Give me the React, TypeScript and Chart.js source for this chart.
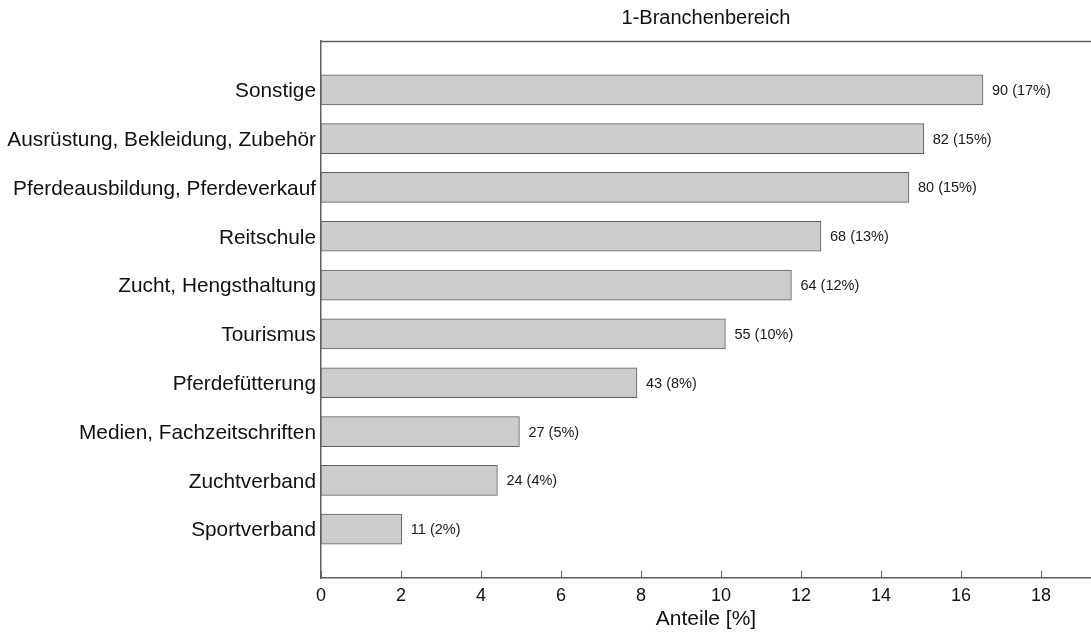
import React, { useEffect, useRef } from "react";
import { Chart, registerables } from "chart.js";

Chart.register(...registerables);

const categories = [
  "Sonstige",
  "Ausrüstung, Bekleidung, Zubehör",
  "Pferdeausbildung, Pferdeverkauf",
  "Reitschule",
  "Zucht, Hengsthaltung",
  "Tourismus",
  "Pferdefütterung",
  "Medien, Fachzeitschriften",
  "Zuchtverband",
  "Sportverband",
];
const shares = [16.55, 15.07, 14.7, 12.5, 11.76, 10.11, 7.9, 4.96, 4.41, 2.02];
const counts = [90, 82, 80, 68, 64, 55, 43, 27, 24, 11];
const pctLabels = ["17%", "15%", "15%", "13%", "12%", "10%", "8%", "5%", "4%", "2%"];
const xTickValues = [0, 2, 4, 6, 8, 10, 12, 14, 16, 18];
const xMax = 19.25;
const titleText = "1-Branchenbereich";
const xTitle = "Anteile [%]";

const FONT = "'Liberation Sans', Arial, Helvetica, sans-serif";
const AXIS_COLOR = "#5f5f5f";

export default function App() {
  const ref = useRef<HTMLCanvasElement | null>(null);

  useEffect(() => {
    if (!ref.current) return;
    const labels = ["", ...categories, ""];
    const data = [null, ...shares, null];

    const extras = {
      id: "extras",
      afterDatasetsDraw(chart: any) {
        const ctx = chart.ctx;
        const area = chart.chartArea;
        const xs = chart.scales.x;
        ctx.save();
        ctx.strokeStyle = AXIS_COLOR;
        ctx.lineWidth = 1.5;
        ctx.beginPath();
        ctx.moveTo(area.left, area.top + 0.5);
        ctx.lineTo(area.right, area.top + 0.5);
        ctx.stroke();
        ctx.lineWidth = 1;
        xTickValues.forEach((v) => {
          const px = Math.round(xs.getPixelForValue(v)) + 0.5;
          ctx.beginPath();
          ctx.moveTo(px, area.bottom);
          ctx.lineTo(px, area.bottom - 7);
          ctx.stroke();
        });
        const meta = chart.getDatasetMeta(0);
        ctx.fillStyle = "#1a1a1a";
        ctx.font = `14.5px ${FONT}`;
        ctx.textBaseline = "middle";
        ctx.textAlign = "left";
        meta.data.forEach((bar: any, i: number) => {
          if (i === 0 || i > categories.length) return;
          const k = i - 1;
          ctx.fillText(`${counts[k]} (${pctLabels[k]})`, bar.x + 9, bar.y + 1);
        });
        ctx.restore();
      },
    };

    const chart = new Chart(ref.current, {
      type: "bar",
      data: {
        labels,
        datasets: [
          {
            data,
            backgroundColor: "#cccccc",
            borderColor: "#5f5f5f",
            borderWidth: 1,
            borderSkipped: false,
            barThickness: 30,
          },
        ],
      },
      plugins: [extras],
      options: {
        indexAxis: "y",
        animation: false,
        responsive: false,
        maintainAspectRatio: false,
        layout: { padding: 0 },
        plugins: {
          legend: { display: false },
          tooltip: { enabled: false },
          title: {
            display: true,
            text: titleText,
            fullSize: false,
            color: "#111111",
            font: { family: FONT, size: 20, weight: "normal" },
            padding: { top: 6, bottom: 11 },
          },
        },
        scales: {
          x: {
            type: "linear",
            min: 0,
            max: xMax,
            afterBuildTicks(scale: any) {
              scale.ticks = xTickValues.map((v) => ({ value: v }));
            },
            afterFit(scale: any) {
              scale.height = 54;
            },
            grid: { display: false, drawTicks: false },
            border: { display: true, color: AXIS_COLOR, width: 1.5 },
            ticks: {
              padding: 7,
              color: "#111111",
              font: { family: FONT, size: 18 },
              maxRotation: 0,
              autoSkip: false,
            },
            title: {
              display: true,
              text: xTitle,
              color: "#111111",
              font: { family: FONT, size: 21 },
              padding: { top: 0, bottom: 0 },
            },
          },
          y: {
            type: "category",
            offset: false,
            afterFit(scale: any) {
              scale.width = 321;
            },
            grid: { display: false, drawTicks: false },
            border: { display: true, color: AXIS_COLOR, width: 1.5 },
            ticks: {
              padding: 5,
              labelOffset: 1.5,
              autoSkip: false,
              color: "#111111",
              font: { family: FONT, size: 20.8 },
            },
          },
        },
      } as any,
    });
    return () => chart.destroy();
  }, []);

  return (
    <div style={{ position: "fixed", left: 0, top: 0, width: 1091, height: 632, background: "#fff" }}>
      <canvas ref={ref} width={1091} height={632} style={{ width: 1091, height: 632 }} />
    </div>
  );
}
